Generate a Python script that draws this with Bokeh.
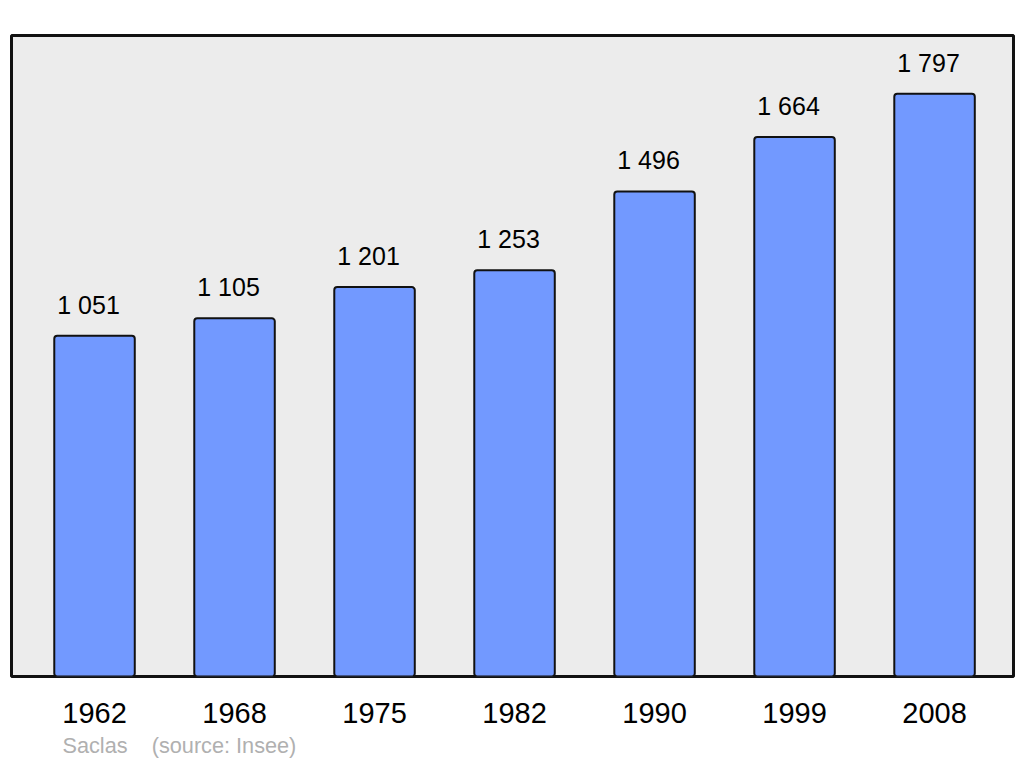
from bokeh.plotting import figure
from bokeh.models import Range1d, FixedTicker, Title, ColumnDataSource
from bokeh.core.properties import value
from bokeh.embed import file_html
from bokeh.resources import INLINE

years = ["1962", "1968", "1975", "1982", "1990", "1999", "2008"]
population = [1051, 1105, 1201, 1253, 1496, 1664, 1797]
commune = "Saclas"
source_text = "(source: Insee)"

xs = list(range(len(years)))
labels = [f"{v:,}".replace(",", " ") for v in population]
src = ColumnDataSource(dict(x=xs, top=population, label=labels))

FONT = "Liberation Sans"

p = figure(width=1020, height=762, output_backend="svg", toolbar_location=None,
           x_range=Range1d(-0.593, 6.564), y_range=Range1d(0, 1977),
           min_border_left=11, min_border_right=7, min_border_top=35, min_border_bottom=86)
p.background_fill_color = "#ececec"
p.border_fill_color = "white"
p.outline_line_color = "#111111"
p.outline_line_width = 3
p.xgrid.visible = False
p.ygrid.visible = False
p.yaxis.visible = False

p.vbar(x="x", top="top", width=0.575, bottom=0, source=src,
       fill_color="#7299ff", line_color="#111111", line_width=2, border_radius=3)

p.text(x="x", y="top", text="label", source=src, x_offset=-6, y_offset=-31,
       text_align="center", text_baseline="alphabetic", text_font=value(FONT),
       text_font_size="25px", text_color="black")

ax = p.xaxis[0]
ax.ticker = FixedTicker(ticks=xs)
ax.major_label_overrides = {i: y for i, y in zip(xs, years)}
ax.axis_line_color = None
ax.major_tick_line_color = None
ax.minor_tick_line_color = None
ax.major_label_text_font = FONT
ax.major_label_text_font_size = "29px"
ax.major_label_text_color = "black"
ax.major_label_standoff = 20

nb = "\u00a0"
p.add_layout(Title(text=commune + nb * 4 + source_text, align="left", offset=51,
                   text_font=FONT, text_font_size="21.7px", text_color="#b0b0b0",
                   text_font_style="normal", standoff=10), "below")

open("out.html", "w").write(file_html(p, INLINE))
